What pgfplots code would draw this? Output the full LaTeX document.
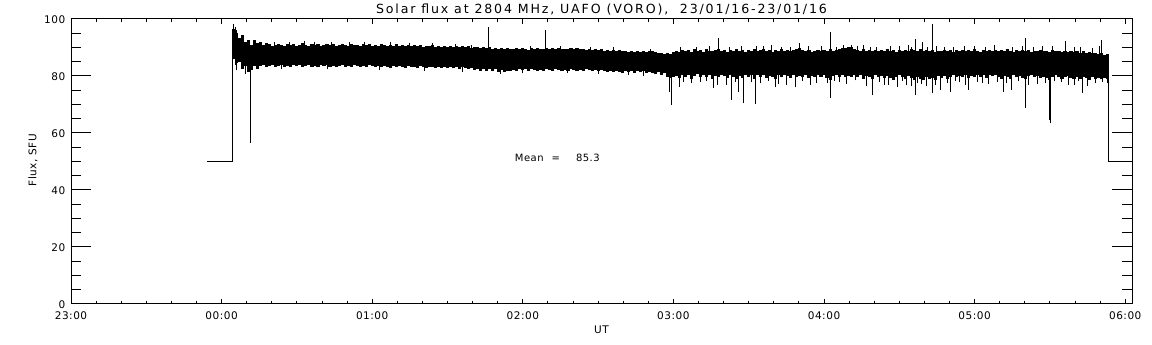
\documentclass[border=0pt]{standalone}
\usepackage{pgfplots}
\pgfplotsset{compat=1.18}
\usepackage{pgfplotstable}
\usepackage{fontspec}
\setmainfont{DejaVu Sans}
\newfontfamily\idltick{DejaVu Sans}[LetterSpace=5]
\newfontfamily\idltitle{DejaVu Sans}[LetterSpace=14.5]

\pgfplotstableread{
x lo hi
0.08 86.0 96.5
0.10 84.5 95.0
0.12 85.0 93.5
0.14 82.5 94.5
0.16 83.5 92.0
0.18 81.5 92.5
0.20 82.0 91.0
0.22 83.5 92.5
0.24 82.5 91.5
0.26 83.5 92.0
0.28 84.0 91.0
0.30 83.0 91.5
0.32 83.4 91.2
0.34 83.8 90.7
0.36 83.1 91.0
0.38 83.6 91.4
0.40 83.9 90.8
0.42 83.3 90.6
0.44 83.5 91.1
0.46 83.0 90.9
0.48 83.7 91.3
0.50 83.4 90.7
0.52 83.8 91.0
0.54 83.2 91.5
0.56 83.6 90.8
0.58 83.9 90.6
0.60 83.3 91.2
0.62 83.5 90.9
0.64 83.1 91.4
0.66 83.7 90.7
0.68 83.4 91.0
0.70 83.8 91.3
0.72 83.2 90.8
0.74 83.6 91.1
0.76 83.0 90.6
0.78 83.5 91.0
0.80 83.8 91.4
0.82 83.3 90.9
0.84 83.6 90.7
0.86 83.1 91.2
0.88 83.7 90.8
0.90 83.4 91.0
0.92 83.2 90.6
0.94 83.6 91.1
0.96 83.3 90.8
0.98 83.7 91.3
1.00 83.4 90.7
1.02 83.2 90.9
1.04 83.6 90.5
1.06 83.0 91.2
1.08 83.5 90.8
1.10 83.3 90.6
1.12 82.9 91.0
1.14 83.4 90.7
1.16 83.1 91.1
1.18 83.6 90.5
1.20 83.2 90.9
1.22 82.8 90.6
1.24 83.4 91.0
1.26 83.0 90.4
1.28 83.3 90.8
1.30 82.9 90.5
1.32 83.4 90.9
1.34 83.1 90.3
1.36 82.8 90.7
1.38 83.3 90.4
1.40 83.0 90.8
1.42 82.7 90.2
1.44 83.2 90.6
1.46 82.9 90.3
1.48 83.3 90.7
1.50 82.8 90.1
1.52 83.1 90.5
1.54 82.7 90.2
1.56 83.0 90.6
1.58 82.6 90.0
1.60 83.1 90.4
1.62 82.8 90.1
1.64 82.4 90.5
1.66 82.9 89.9
1.68 82.2 90.3
1.70 82.6 90.0
1.72 81.9 89.7
1.74 82.4 90.2
1.76 81.6 89.8
1.78 82.3 90.1
1.80 81.8 89.6
1.82 82.3 89.9
1.84 81.5 89.5
1.86 82.0 89.8
1.88 81.3 89.4
1.90 81.9 89.9
1.92 81.6 89.6
1.94 82.2 89.3
1.96 81.8 89.7
1.98 82.4 89.4
2.00 82.0 89.8
2.02 82.5 89.5
2.04 81.9 89.2
2.06 82.3 89.7
2.08 82.0 89.4
2.10 81.7 89.9
2.12 82.2 89.5
2.14 81.9 89.3
2.16 82.4 89.7
2.18 82.1 89.4
2.20 81.8 89.8
2.22 82.3 89.5
2.24 82.0 89.9
2.26 81.6 89.4
2.28 82.2 89.6
2.30 81.9 89.3
2.32 82.3 89.7
2.34 82.0 89.4
2.36 81.7 89.8
2.38 82.2 89.3
2.40 81.9 89.6
2.42 82.4 89.2
2.44 82.0 89.5
2.46 81.6 89.1
2.48 82.1 89.4
2.50 81.8 89.0
2.52 82.2 89.3
2.54 81.9 88.9
2.56 81.5 89.2
2.58 81.9 88.8
2.60 81.3 89.1
2.62 81.8 88.7
2.64 81.5 89.0
2.66 81.1 88.6
2.68 81.7 88.9
2.70 81.4 88.5
2.72 81.8 88.8
2.74 81.2 88.4
2.76 81.6 88.9
2.78 81.3 88.5
2.80 81.7 88.7
2.82 81.0 88.3
2.84 81.5 88.6
2.86 81.2 88.8
2.88 80.8 88.4
2.90 81.3 88.2
2.92 80.5 87.9
2.94 80.9 87.6
2.96 79.8 88.0
2.98 79.2 87.8
3.00 79.6 88.4
3.02 80.1 88.9
3.04 79.4 88.3
3.06 80.5 89.2
3.08 79.8 88.6
3.10 80.3 89.0
3.12 79.1 88.4
3.14 80.0 89.3
3.16 80.6 88.7
3.18 79.5 89.1
3.20 80.2 88.5
3.22 79.7 89.4
3.24 80.4 88.8
3.26 78.9 88.6
3.28 80.1 89.0
3.30 79.6 89.5
3.32 80.3 88.7
3.34 79.9 89.1
3.36 79.2 88.5
3.38 80.4 89.2
3.40 79.7 88.8
3.42 78.8 89.3
3.44 80.0 88.6
3.46 79.3 89.0
3.48 80.5 88.4
3.50 79.6 89.1
3.52 80.2 88.7
3.54 79.0 89.4
3.56 80.3 88.9
3.58 79.8 89.2
3.60 80.5 89.6
3.62 79.4 88.8
3.64 80.1 89.1
3.66 79.7 88.5
3.68 78.9 89.0
3.70 80.2 88.7
3.72 79.6 89.3
3.74 80.4 88.9
3.76 79.9 89.2
3.78 79.2 88.6
3.80 80.3 89.0
3.82 79.5 89.4
3.84 80.1 89.8
3.86 79.8 89.1
3.88 80.4 88.7
3.90 79.3 89.0
3.92 80.0 88.5
3.94 79.6 88.9
3.96 80.3 89.2
3.98 79.8 88.6
4.00 80.5 89.0
4.02 79.4 88.8
4.04 78.6 89.3
4.06 79.9 88.7
4.08 80.4 89.1
4.10 79.7 89.4
4.12 80.2 89.7
4.14 79.5 89.9
4.16 80.1 90.2
4.18 79.8 90.0
4.20 80.4 89.6
4.22 79.6 89.2
4.24 80.2 88.9
4.26 79.1 89.3
4.28 80.0 88.7
4.30 79.6 89.0
4.32 78.9 88.8
4.34 80.3 89.2
4.36 79.7 88.6
4.38 80.1 89.1
4.40 79.4 88.9
4.42 80.0 89.3
4.44 79.2 88.7
4.46 78.7 89.0
4.48 79.8 88.5
4.50 80.3 89.2
4.52 79.5 88.8
4.54 78.9 89.1
4.56 79.9 88.6
4.58 79.3 89.4
4.60 78.6 89.0
4.62 79.7 88.7
4.64 79.1 89.3
4.66 78.5 88.9
4.68 79.6 89.2
4.70 78.8 88.6
4.72 79.3 89.0
4.74 78.6 88.4
4.76 79.9 88.9
4.78 79.2 88.6
4.80 80.1 89.1
4.82 79.0 88.7
4.84 79.8 89.0
4.86 80.4 88.5
4.88 79.5 89.2
4.90 80.1 88.8
4.92 79.7 89.1
4.94 80.3 88.6
4.96 79.2 89.0
4.98 80.0 88.7
5.00 79.6 89.3
5.02 80.4 88.9
5.04 79.8 88.5
5.06 80.2 89.0
5.08 79.3 88.7
5.10 80.5 89.2
5.12 79.9 88.8
5.14 80.3 89.1
5.16 79.6 88.6
5.18 79.0 89.0
5.20 80.1 88.7
5.22 79.7 89.3
5.24 79.1 88.9
5.26 80.2 88.5
5.28 79.5 89.0
5.30 80.0 88.6
5.32 79.4 89.2
5.34 78.8 88.8
5.36 79.9 89.0
5.38 80.3 88.4
5.40 79.6 88.9
5.42 80.1 88.6
5.44 79.2 89.1
5.46 79.8 88.7
5.48 79.3 88.9
5.50 78.7 88.5
5.52 79.6 89.0
5.54 80.2 88.6
5.56 79.5 88.8
5.58 79.0 88.4
5.60 79.8 88.9
5.62 80.0 88.5
5.64 79.4 88.7
5.66 78.9 88.3
5.68 79.7 88.8
5.70 79.1 88.2
5.72 79.6 88.6
5.74 79.2 88.1
5.76 78.7 88.5
5.78 79.5 88.0
5.80 79.0 88.2
5.82 79.4 87.7
5.84 78.8 88.0
5.86 79.3 87.5
5.88 78.9 87.8
}\band

\pgfplotstableread{
x lo hi
0.080 86.0 98.2
0.090 84.0 97.2
0.100 82.0 96.2
0.160 80.8 84.0
0.193 56.5 84.0
0.350 86.0 92.0
0.400 82.4 84.0
0.450 86.0 92.0
0.550 86.0 92.2
0.620 86.0 91.9
0.700 82.3 84.0
0.730 86.0 91.9
0.850 86.0 92.1
0.950 86.0 92.0
1.050 82.2 84.0
1.120 86.0 91.8
1.250 86.0 91.6
1.350 81.9 84.0
1.400 86.0 91.5
1.550 86.0 91.2
1.600 81.5 84.0
1.660 86.0 91.0
1.773 89.0 97.1
1.850 80.8 84.0
2.000 80.9 84.0
2.050 86.0 90.4
2.151 89.0 96.1
2.250 86.0 90.7
2.300 81.0 84.0
2.450 86.0 90.2
2.500 80.7 84.0
2.600 86.0 90.1
2.700 80.5 84.0
2.800 80.0 84.0
2.850 86.0 89.6
2.975 74.5 82.0
2.984 69.8 82.0
3.040 76.2 82.0
3.050 86.0 90.2
3.070 77.9 82.0
3.120 77.5 82.0
3.150 86.0 90.3
3.180 78.0 82.0
3.220 78.3 82.0
3.240 86.0 90.6
3.263 75.7 82.0
3.290 76.8 82.0
3.300 86.0 93.4
3.350 77.0 82.0
3.370 86.0 90.0
3.383 71.6 82.0
3.410 78.0 82.0
3.433 74.5 82.0
3.450 86.0 90.5
3.466 70.4 82.0
3.520 77.8 82.0
3.544 70.1 82.0
3.550 86.0 90.4
3.580 77.4 82.0
3.599 86.0 90.6
3.630 78.2 82.0
3.650 86.0 90.9
3.677 76.0 82.0
3.700 77.2 82.0
3.720 86.0 90.1
3.750 77.0 82.0
3.780 86.0 90.2
3.810 76.0 82.0
3.836 86.0 91.5
3.860 78.4 82.0
3.900 86.0 90.6
3.910 76.9 82.0
3.950 77.6 82.0
3.980 86.0 90.4
4.020 77.7 82.0
4.044 72.2 95.5
4.070 78.3 82.0
4.080 86.0 90.3
4.100 78.0 82.0
4.130 86.0 91.0
4.150 77.2 82.0
4.180 86.0 90.8
4.210 78.5 82.0
4.220 86.0 90.5
4.263 86.0 90.9
4.280 76.6 82.0
4.310 86.0 90.1
4.323 73.3 82.0
4.350 86.0 90.2
4.370 77.9 82.0
4.400 77.0 82.0
4.430 76.9 82.0
4.440 86.0 90.4
4.485 76.2 82.0
4.500 86.0 90.6
4.520 78.1 82.0
4.550 76.8 82.0
4.560 86.0 90.8
4.580 76.4 82.0
4.584 86.0 90.2
4.606 73.3 93.0
4.620 77.5 82.0
4.650 77.3 82.0
4.651 86.0 91.9
4.680 76.5 82.0
4.690 86.0 90.2
4.717 73.9 98.1
4.740 76.8 82.0
4.750 86.0 90.6
4.772 75.1 82.0
4.800 86.0 90.3
4.820 77.6 82.0
4.839 74.5 82.0
4.860 86.0 90.1
4.870 78.4 82.0
4.900 77.8 82.0
4.930 86.0 90.5
4.940 76.9 82.0
4.961 75.1 82.0
5.000 86.0 90.5
5.020 78.0 82.0
5.050 77.5 82.0
5.070 86.0 90.3
5.090 77.1 82.0
5.130 86.0 90.8
5.150 78.0 82.0
5.193 74.3 82.0
5.210 77.6 82.0
5.248 75.0 82.0
5.250 86.0 90.2
5.290 78.2 82.0
5.320 86.0 90.4
5.337 68.9 93.2
5.360 76.9 82.0
5.390 86.0 90.1
5.420 77.2 82.0
5.450 86.0 90.7
5.470 77.4 82.0
5.500 64.5 82.0
5.505 63.4 82.0
5.520 86.0 90.6
5.530 78.1 82.0
5.580 77.8 82.0
5.602 86.0 92.3
5.620 77.0 82.0
5.660 76.8 82.0
5.665 86.0 90.3
5.690 78.3 82.0
5.700 86.0 90.1
5.713 74.0 82.0
5.750 76.6 82.0
5.780 86.0 89.9
5.800 77.5 82.0
5.830 86.0 90.4
5.841 86.0 92.7
5.850 78.0 82.0
5.879 77.7 82.0
}\spikes

\begin{document}
\begin{tikzpicture}
\path[use as bounding box] (0,0) rectangle (1152pt,345pt);
\begin{axis}[
  at={(71pt,41pt)}, anchor=south west,
  scale only axis, width=1061pt, height=285pt,
  clip mode=individual,
  xmin=-1, xmax=6.045, ymin=0, ymax=100,
  xtick={-1,0,1,2,3,4,5,6},
  xticklabels={23:00,00:00,01:00,02:00,03:00,04:00,05:00,06:00},
  minor x tick num=5,
  ytick={0,20,40,60,80,100},
  yticklabels={0,20,40,60,80,100},
  minor y tick num=3,
  xtick style={line width=1pt, black, /pgfplots/major tick length=5pt, /pgfplots/minor tick length=3pt},
  ytick style={line width=1pt, black, /pgfplots/major tick length=20pt, /pgfplots/minor tick length=10pt},
  axis line style={line width=1pt},
  tick label style={font=\idltick\fontsize{10.5}{12}\selectfont, inner sep=0pt},
  xticklabel style={anchor=base, yshift=-16pt},
  yticklabel style={anchor=base east, xshift=-5.5pt, yshift=-4.2pt},
  xlabel={UT},
  xlabel style={at={(axis description cs:0.5,-0.105)}, anchor=base, inner sep=0pt, font=\idltick\fontsize{10.5}{12}\selectfont},
  ylabel={Flux, SFU},
  ylabel style={at={(axis description cs:-0.0358,0.505)}, anchor=center, inner sep=0pt, font=\idltick\fontsize{10.5}{12}\selectfont},
]
\addplot[black, line width=1pt] coordinates {(-0.095,50) (0.073,50) (0.073,88)};
\addplot[black, line width=1pt] coordinates {(5.886,82) (5.886,50) (6.045,50)};
\addplot[draw=none, mark=none, error bars/.cd, y dir=plus, y explicit, error mark=none,
  error bar style={draw=black, line width=3.1pt}]
  table[x=x, y=lo, y error expr=\thisrow{hi}-\thisrow{lo}] {\band};
\addplot[draw=none, mark=none, error bars/.cd, y dir=plus, y explicit, error mark=none,
  error bar style={draw=black, line width=1pt}]
  table[x=x, y=lo, y error expr=\thisrow{hi}-\thisrow{lo}] {\spikes};
\node[anchor=base west, inner sep=0pt, font=\idltick\fontsize{10}{12}\selectfont] at (axis cs:1.946,49.9) {Mean\hspace{8pt}=\hspace{16pt}85.3};
\node[anchor=base, inner sep=0pt, font=\idltitle\fontsize{12.6}{14}\selectfont] at (axis description cs:0.5,1.020) {Solar flux at 2804 MHz, UAFO (VORO),\ \ 23/01/16-23/01/16};
\end{axis}
\end{tikzpicture}
\end{document}
